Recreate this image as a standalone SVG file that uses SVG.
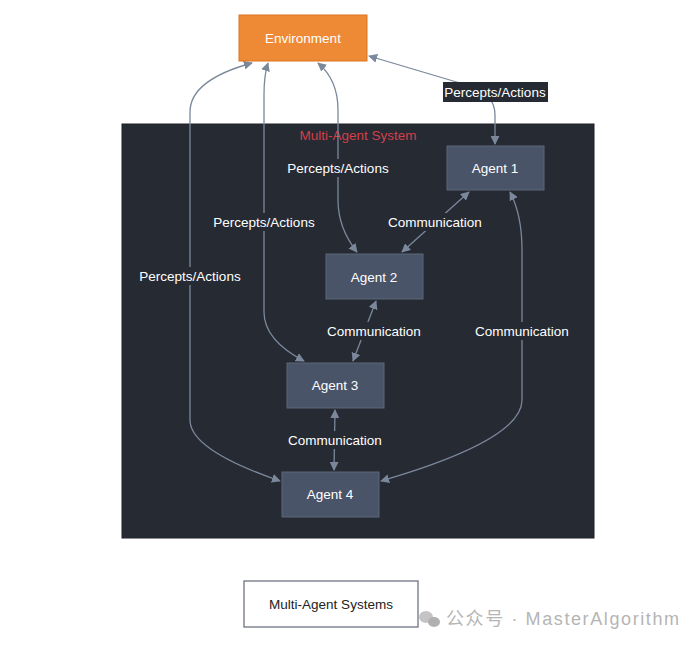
<svg xmlns="http://www.w3.org/2000/svg" width="700" height="646" viewBox="0 0 700 646">
<defs>
<marker id="arr" viewBox="0 0 10 10" refX="9" refY="5" markerWidth="9" markerHeight="9" markerUnits="userSpaceOnUse" orient="auto-start-reverse">
<path d="M0,0 L10,5 L0,10 z" fill="#7b889c"/>
</marker>
<style>
.agent rect{fill:#4a5468;stroke:#5c6679;stroke-width:1}
.agent text,.lbl text{font-family:"Liberation Sans","DejaVu Sans",sans-serif;font-size:13.5px;fill:#ffffff;text-anchor:middle;dominant-baseline:central}
.edge{fill:none;stroke:#7b889c;stroke-width:1.3;marker-start:url(#arr);marker-end:url(#arr)}
.lbl rect{fill:#262a33}
</style>
</defs>
<rect width="700" height="646" fill="#ffffff"/>
<g id="cluster">
<rect x="122" y="124" width="472" height="414" fill="#262a33" stroke="#1d2027"/>
<text x="358" y="135" font-family="Liberation Sans,DejaVu Sans,sans-serif" font-size="13.5" fill="#d43f48" text-anchor="middle" dominant-baseline="central">Multi-Agent System</text>
</g>
<g id="connectors">
<path class="edge" d="M369,56 L470,86 Q495,94 495,115 L495,144"/>
<path class="edge" d="M318,63 Q338,80 338,110 L338,200 Q338,228 357,252"/>
<path class="edge" d="M268,63 Q264,75 264,95 L264,312 Q264,340 304,361"/>
<path class="edge" d="M252,63 Q190,80 190,112 L190,420 Q190,450 280,481"/>
<path class="edge" d="M469,192 L402,252"/>
<path class="edge" d="M376,301 L353,361"/>
<path class="edge" d="M335,410 L334,470"/>
<path class="edge" d="M510,192 Q522,215 522,250 L522,400 Q522,440 381,481"/>
</g>
<g id="labels" class="lbl">
<rect x="443" y="82" width="105" height="20" fill="#1e2128"/>
<text x="495" y="92">Percepts/Actions</text>
<rect x="285" y="159" width="106" height="18"/>
<text x="338" y="168">Percepts/Actions</text>
<rect x="211" y="213" width="106" height="18"/>
<text x="264" y="222">Percepts/Actions</text>
<rect x="137" y="267" width="106" height="18"/>
<text x="190" y="276">Percepts/Actions</text>
<rect x="386" y="213" width="98" height="18"/>
<text x="435" y="222">Communication</text>
<rect x="325" y="322" width="98" height="18"/>
<text x="374" y="331">Communication</text>
<rect x="286" y="431" width="98" height="18"/>
<text x="335" y="440">Communication</text>
<rect x="473" y="322" width="98" height="18"/>
<text x="522" y="331">Communication</text>
</g>
<g id="environment">
<rect x="239" y="15" width="128" height="46" fill="#ee8a35" stroke="#e07520"/>
<text x="303" y="38" font-family="Liberation Sans,DejaVu Sans,sans-serif" font-size="13.5" fill="#ffffff" text-anchor="middle" dominant-baseline="central">Environment</text>
</g>
<g id="agent1" class="agent"><rect x="447" y="146" width="97" height="44"/><text x="495" y="168">Agent 1</text></g>
<g id="agent2" class="agent"><rect x="326" y="254" width="97" height="45"/><text x="374" y="277">Agent 2</text></g>
<g id="agent3" class="agent"><rect x="287" y="363" width="97" height="45"/><text x="335" y="385">Agent 3</text></g>
<g id="agent4" class="agent"><rect x="282" y="472" width="97" height="45"/><text x="330" y="494">Agent 4</text></g>
<g id="legend">
<rect x="244" y="581" width="174" height="46" fill="#ffffff" stroke="#6e7381" stroke-width="1.3"/>
<text x="331" y="604" font-family="Liberation Sans,DejaVu Sans,sans-serif" font-size="13.5" fill="#222222" text-anchor="middle" dominant-baseline="central">Multi-Agent Systems</text>
</g>
<g id="watermark">
<ellipse cx="426" cy="617" rx="7" ry="6" fill="#c4c4c4"/>
<ellipse cx="434" cy="622" rx="6" ry="5" fill="#b0b0b0"/>
<text x="446" y="619" font-family="Liberation Sans,Noto Sans CJK SC,sans-serif" font-size="18" fill="#b5b5b5" dominant-baseline="central" letter-spacing="1.6">公众号 · MasterAlgorithm</text>
</g>
</svg>
